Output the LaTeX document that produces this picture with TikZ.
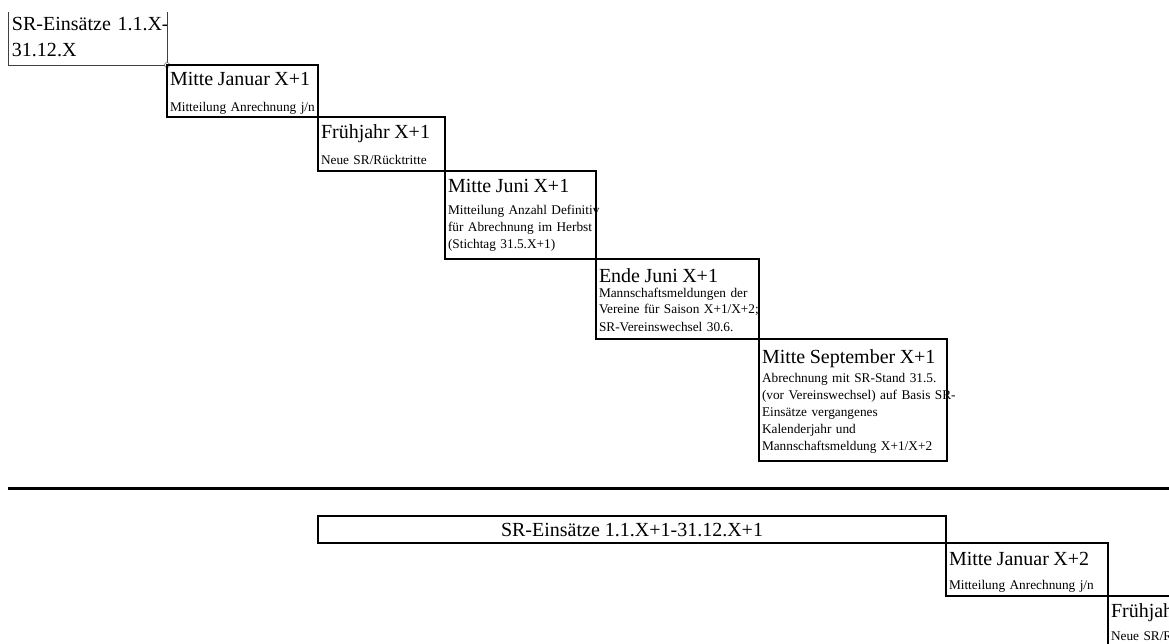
\documentclass[tikz,border=0pt]{standalone}
\usepackage{fontspec}
\setmainfont{Liberation Serif}
\usetikzlibrary{positioning}

\newcommand{\hdfont}{\fontsize{20}{26}\selectfont}
\newcommand{\smfont}{\fontsize{13.3}{17}\selectfont}

\tikzstyle{datebox} = [rectangle, draw = black, line width=1.6pt, anchor=north west, outer sep=0pt, inner sep=0pt]
\tikzstyle{boxtext} = [anchor=north west, outer sep=0pt, inner xsep=3pt, inner ysep=0pt, text width=260pt, align=left, font=\smfont]
\tikzstyle{thinline} = [draw = black!75, line width=0.8pt]

\begin{document}
\begin{tikzpicture}[x=1pt, y=-1pt]
	\clip (0,0) rectangle (1169,644);
	% Jahr X
	\node (srx) [datebox, draw=none, minimum width=159pt, minimum height=53pt] at (8,12) {};
	\node (srxtext) [boxtext, inner xsep=4pt, text height=19pt, font=\hdfont] at (srx.north west) {SR-Einsätze 1.1.X-\\31.12.X};
	\draw [thinline] (srx.north west) |- (srx.south east) -- (srx.north east);
	\draw [draw = black!60, fill = white, line width=0.6pt] (srx.south east) circle (2.5pt);
	
	\node (jan) [datebox, minimum width=151pt, minimum height=52pt] at (srx.south east) {};
	\node (jantext) [boxtext, text height=21pt] at (jan.north west) {{\hdfont Mitte Januar X+1}\\[9pt]Mitteilung Anrechnung j/n};
	
	\node (fruehjahr) [datebox, minimum width=127pt, minimum height=54pt] at (jan.south east) {};
	\node (fruehjahrtext) [boxtext, text height=22pt] at (fruehjahr.north west) {{\hdfont Frühjahr X+1}\\[9pt]Neue SR/Rücktritte};
	
	\node (juni) [datebox, minimum width=151pt, minimum height=88pt] at (fruehjahr.south east) {};
	\node (junitext) [boxtext, text height=22pt] at (juni.north west) {{\hdfont Mitte Juni X+1}\\[5pt]Mitteilung Anzahl Definitiv\\für Abrechnung im Herbst\\(Stichtag 31.5.X+1)};
	
	\node (endejuni) [datebox, minimum width=163pt, minimum height=80pt] at (juni.south east) {};
	\node (endejunitext) [boxtext, text height=23pt] at (endejuni.north west) {{\hdfont Ende Juni X+1}\\[-2pt]Mannschaftsmeldungen der\\Vereine für Saison X+1/X+2;\\SR-Vereinswechsel 30.6.};
	
	\node (sept) [datebox, minimum width=188pt, minimum height=122pt] at (endejuni.south east) {};
	\node (septtext) [boxtext, text height=24pt] at (sept.north west) {{\hdfont Mitte September X+1}\\[2pt]Abrechnung mit SR-Stand 31.5.\\(vor Vereinswechsel) auf Basis SR-\\Einsätze vergangenes\\Kalenderjahr und\\Mannschaftsmeldung X+1/X+2};
	
	\draw [line width=3pt] (8,488) -- (1169,488);
	
	% Jahr X+1
	\node (srnext) [datebox, minimum width=628pt, text height=20pt, text depth=7pt, font=\hdfont] at (318,516) {SR-Einsätze 1.1.X+1-31.12.X+1};
	
	\node (jannext) [datebox, minimum width=162pt, minimum height=53pt] at (srnext.south east) {};
	\node (jannexttext) [boxtext, text height=22pt] at (jannext.north west) {{\hdfont Mitte Januar X+2}\\[7pt]Mitteilung Anrechnung j/n};
	
	\node (fruehnext) [datebox, minimum width=100pt, minimum height=80pt] at (jannext.south east) {};
	\node (fruehnexttext) [boxtext, text height=21pt] at (fruehnext.north west) {{\hdfont Frühjah}\\[6pt]Neue SR/R};
\end{tikzpicture}
\end{document}
